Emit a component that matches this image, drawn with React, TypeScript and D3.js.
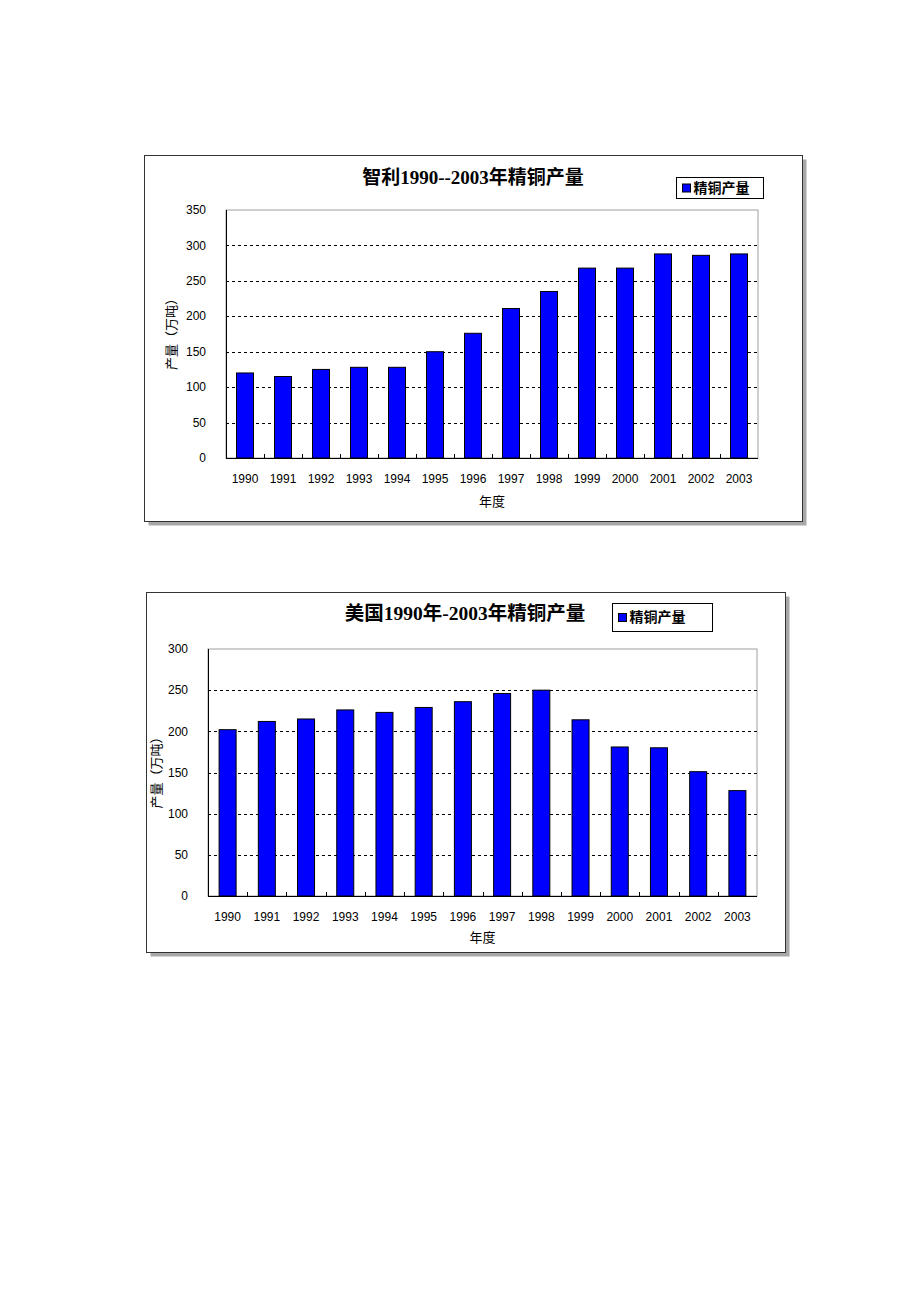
import React from "react";
import * as d3 from "d3";

const years = ["1990","1991","1992","1993","1994","1995","1996","1997","1998","1999","2000","2001","2002","2003"];
const chileValues = [120,115,125,128,128,150,176,211,235,268,268,288,286,288];
const usaValues = [202,212,215,226,223,229,236,246,250,214,181,180,151,128];
const chileTicks = [0,50,100,150,200,250,300,350];
const usaTicks = [0,50,100,150,200,250,300];
const chileTitle = "智利1990--2003年精铜产量";
const usaTitle = "美国1990年-2003年精铜产量";
const seriesName = "精铜产量";
const yTitle = "产量（万吨）";
const xTitle = "年度";

type ChartProps = {
  frame: { x: number; y: number; w: number; h: number };
  plot: { l: number; t: number; r: number; b: number };
  title: string;
  titleX: number;
  titleY: number;
  titleSize: number;
  legend: { x: number; y: number; w: number; h: number };
  values: number[];
  ticks: number[];
  yMax: number;
  yTitleX: number;
  xTitleY: number;
  barW: number;
};

const BLUE = "#0000ff";
const sans = "'Liberation Sans', Arial, 'Noto Sans CJK SC', sans-serif";
const cjk = "'Liberation Serif', 'Noto Sans CJK SC', serif";

function Chart(p: ChartProps) {
  const x = d3.scaleBand<string>().domain(years).range([p.plot.l, p.plot.r]).paddingInner(0).paddingOuter(0);
  const y = d3.scaleLinear().domain([0, p.yMax]).range([p.plot.b, p.plot.t]);
  const bw = x.bandwidth();
  const { frame, plot, legend } = p;
  return (
    <g>
      <rect x={frame.x + 4} y={frame.y + 4} width={frame.w} height={frame.h} fill="#a8a8a8" />
      <rect x={frame.x} y={frame.y} width={frame.w} height={frame.h} fill="#fff" stroke="#333" strokeWidth={1} />
      <rect x={plot.l} y={plot.t} width={plot.r - plot.l} height={plot.b - plot.t} fill="#fff" stroke="#a0a0a0" strokeWidth={1} />
      {p.ticks.filter((t) => t > 0 && t < p.yMax).map((t) => (
        <line key={"g" + t} x1={plot.l} x2={plot.r} y1={Math.round(y(t)) + 0.5} y2={Math.round(y(t)) + 0.5}
          stroke="#000" strokeWidth={1} strokeDasharray="3,3" />
      ))}
      {years.map((yr, i) => (
        <rect key={"b" + yr} x={(x(yr) as number) + (bw - p.barW) / 2} y={y(p.values[i])}
          width={p.barW} height={plot.b - y(p.values[i])} fill={BLUE} stroke="#000" strokeWidth={1} />
      ))}
      <line x1={plot.l + 0.5} x2={plot.l + 0.5} y1={plot.t} y2={plot.b} stroke="#000" strokeWidth={1} />
      <line x1={plot.l} x2={plot.r} y1={plot.b + 0.5} y2={plot.b + 0.5} stroke="#000" strokeWidth={1} />
      {years.slice(1).map((yr) => (
        <line key={"t" + yr} x1={Math.round(x(yr) as number) + 0.5} x2={Math.round(x(yr) as number) + 0.5}
          y1={plot.b} y2={plot.b - 4} stroke="#000" strokeWidth={1} />
      ))}
      {p.ticks.map((t) => (
        <text key={"yl" + t} x={plot.l - 20} y={y(t)} dy="0.35em" textAnchor="end" fontSize={12} fontFamily={sans} fill="#000">
          {t}
        </text>
      ))}
      {years.map((yr) => (
        <text key={"xl" + yr} x={(x(yr) as number) + bw / 2} y={plot.b + 21} dy="0.35em" textAnchor="middle" fontSize={12} fontFamily={sans} fill="#000">
          {yr}
        </text>
      ))}
      <text x={(plot.l + plot.r) / 2} y={p.xTitleY} dy="0.35em" textAnchor="middle" fontSize={13} fontFamily={cjk} fill="#000">
        {xTitle}
      </text>
      <text transform={`translate(${p.yTitleX},${(plot.t + plot.b) / 2 - 3}) rotate(-90)`} dy="0.35em" textAnchor="middle" fontSize={13} fontFamily={cjk} fill="#000">
        {yTitle}
      </text>
      <text x={p.titleX} y={p.titleY} dy="0.35em" textAnchor="middle" fontSize={p.titleSize} fontWeight="bold" fontFamily={cjk} fill="#000">
        {p.title}
      </text>
      <rect x={legend.x} y={legend.y} width={legend.w} height={legend.h} fill="#fff" stroke="#000" strokeWidth={1} />
      <rect x={legend.x + 6} y={legend.y + legend.h / 2 - 4} width={8} height={8} fill={BLUE} stroke="#000" strokeWidth={1} />
      <text x={legend.x + 17} y={legend.y + legend.h / 2} dy="0.35em" fontSize={14} fontWeight="bold" fontFamily={cjk} fill="#000">
        {seriesName}
      </text>
    </g>
  );
}

export default function App() {
  return (
    <svg width={920} height={1302} style={{ position: "absolute", left: 0, top: 0, display: "block" }}>
      <rect x={0} y={0} width={920} height={1302} fill="#fff" />
      <Chart
        frame={{ x: 144.5, y: 155.5, w: 658, h: 366 }}
        plot={{ l: 226, t: 210, r: 758, b: 458 }}
        title={chileTitle}
        titleX={473}
        titleY={177}
        titleSize={19}
        legend={{ x: 676.5, y: 177.5, w: 87, h: 21 }}
        values={chileValues}
        ticks={chileTicks}
        yMax={350}
        yTitleX={171}
        xTitleY={501}
        barW={17}
      />
      <Chart
        frame={{ x: 146.5, y: 592.5, w: 639, h: 360 }}
        plot={{ l: 208, t: 649, r: 757, b: 896 }}
        title={usaTitle}
        titleX={465}
        titleY={613}
        titleSize={19.5}
        legend={{ x: 612.5, y: 603.5, w: 100, h: 28 }}
        values={usaValues}
        ticks={usaTicks}
        yMax={300}
        yTitleX={156}
        xTitleY={937}
        barW={17}
      />
    </svg>
  );
}
